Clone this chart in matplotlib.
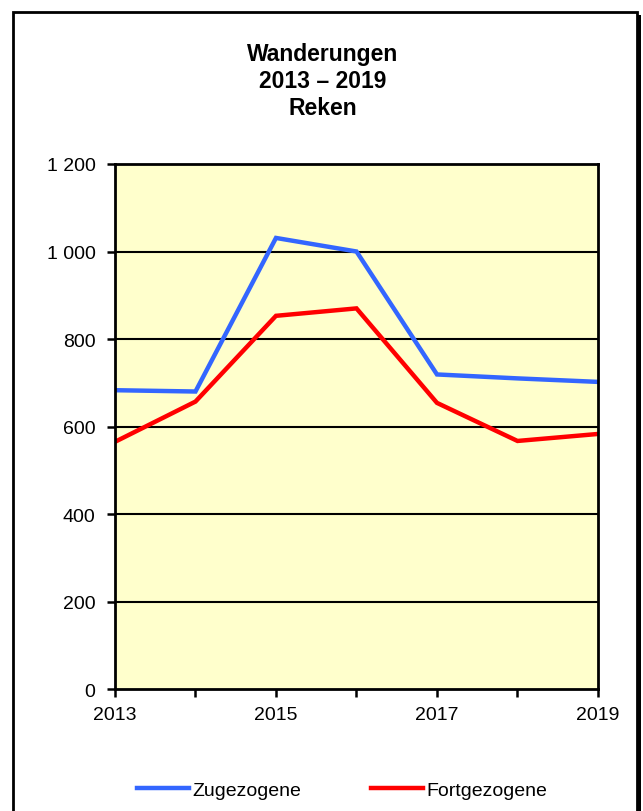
import matplotlib.pyplot as plt
from matplotlib.patches import Rectangle
from matplotlib.ticker import FuncFormatter

years = [2013, 2014, 2015, 2016, 2017, 2018, 2019]
zugezogene = [683, 680, 1031, 1000, 719, 710, 702]
fortgezogene = [565, 657, 853, 870, 654, 567, 583]

plt.rcParams['font.family'] = ['Liberation Sans', 'DejaVu Sans']

fig = plt.figure(figsize=(6.43, 8.12), dpi=100)
ax = fig.add_axes([0.1788, 0.1502, 0.7512, 0.6466])
ax.set_facecolor('#FFFFCC')

# horizontal grid lines
for v in [200, 400, 600, 800, 1000]:
    ax.axhline(v, color='black', lw=1.5, zorder=1)

ax.plot(years, zugezogene, color='#3366FF', lw=3.2, label='Zugezogene', zorder=3,
        solid_joinstyle='miter')
ax.plot(years, fortgezogene, color='#FF0000', lw=3.2, label='Fortgezogene', zorder=3,
        solid_joinstyle='miter')

ax.set_xlim(2013, 2019)
ax.set_ylim(0, 1200)
ax.set_xticks(years)
ax.set_xticklabels([str(y) if (y - 2013) % 2 == 0 else '' for y in years])
ax.set_yticks(range(0, 1201, 200))
ax.yaxis.set_major_formatter(FuncFormatter(lambda v, p: f"{int(v):,}".replace(',', ' ')))
ax.tick_params(axis='both', labelsize=14, width=1.8, length=6, direction='out', color='black')
ax.tick_params(axis='x', pad=6)
ax.tick_params(axis='y', pad=8)
for s in ax.spines.values():
    s.set_linewidth(2)
    s.set_zorder(4)

fig.text(0.5025, 0.8995, 'Wanderungen\n2013 \u2013 2019\nReken', ha='center', va='center',
         fontsize=16.5, fontweight='bold', linespacing=1.22)

ax.legend(loc='center', bbox_to_anchor=(0.47, -0.193), ncol=2, frameon=False,
          fontsize=14, handlelength=2.7, handletextpad=0.15, columnspacing=3.6)

# outer frame with shadow on right
fig.add_artist(Rectangle((12.5 / 643, -0.02), 625 / 643, 1 - 12.5 / 812 + 0.02,
                         transform=fig.transFigure, fill=False, ec='black', lw=2))
fig.add_artist(Rectangle((637 / 643, -0.02), 4 / 643, 1 - 16 / 812 + 0.02,
                         transform=fig.transFigure, fc='black', ec='none'))

fig.savefig('out.png', dpi=100)
